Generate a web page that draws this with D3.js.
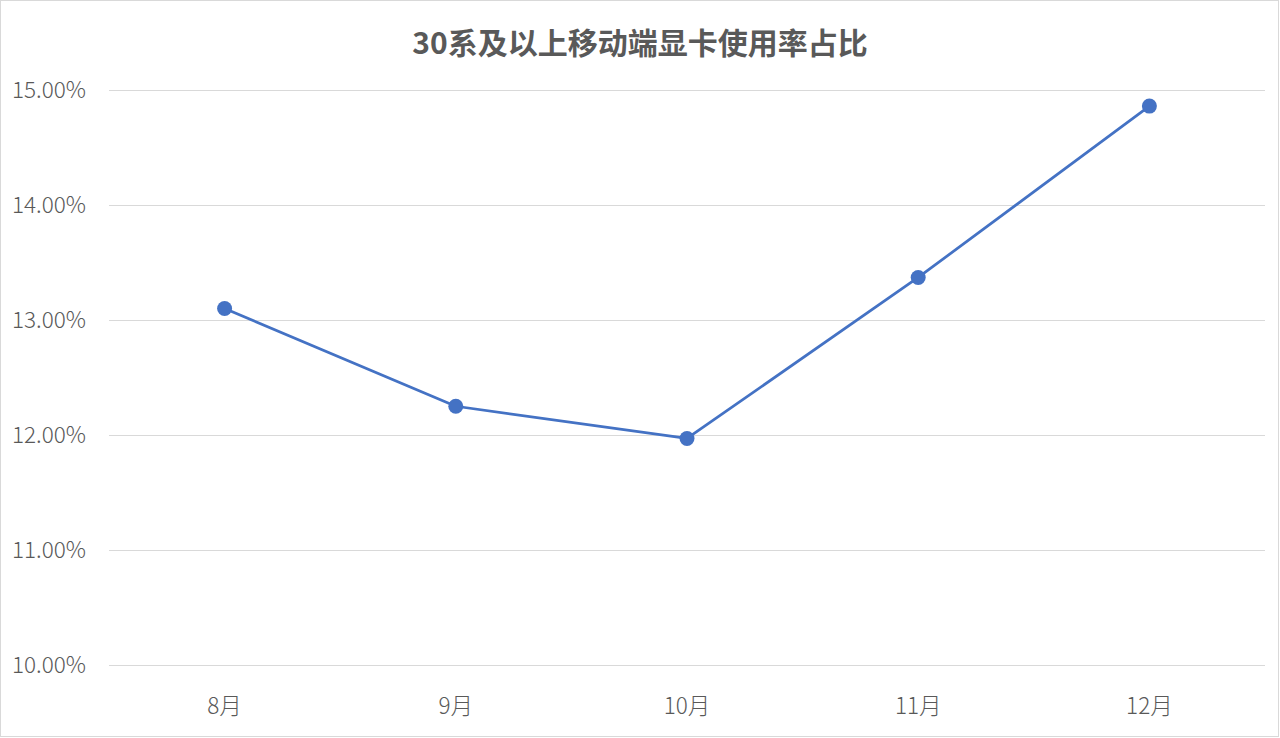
<!DOCTYPE html>
<html>
<head>
<meta charset="utf-8">
<script src="https://cdn.jsdelivr.net/npm/d3@7"></script>
<style>
  html, body { margin: 0; padding: 0; background: #fff; }
  svg { display: block; font-family: "Noto Sans CJK SC", "Noto Sans", sans-serif; }
</style>
</head>
<body>
<svg id="chart"></svg>
<script>
var months = ["8月", "9月", "10月", "11月", "12月"];
var shares = [13.10, 12.25, 11.97, 13.37, 14.86];
var yTicks = [10, 11, 12, 13, 14, 15];
var title = "30系及以上移动端显卡使用率占比";

var width = 1280, height = 738;
var margin = { top: 90, right: 15, bottom: 73, left: 109 };

var svg = d3.select("#chart")
    .attr("width", width)
    .attr("height", height);

// chart border
svg.append("rect")
    .attr("x", 0.5).attr("y", 0.5)
    .attr("width", width - 2).attr("height", height - 2)
    .attr("fill", "#fff")
    .attr("stroke", "#d9d9d9");

var x = d3.scaleBand()
    .domain(months)
    .range([margin.left, width - margin.right]);

var y = d3.scaleLinear()
    .domain([10, 15])
    .range([height - margin.bottom, margin.top]);

// gridlines
svg.append("g")
    .attr("class", "grid")
    .selectAll("line")
    .data(yTicks)
    .enter().append("line")
    .attr("x1", margin.left)
    .attr("x2", width - margin.right)
    .attr("y1", function (d) { return Math.round(y(d)) + 0.5; })
    .attr("y2", function (d) { return Math.round(y(d)) + 0.5; })
    .attr("stroke", "#d9d9d9")
    .attr("stroke-width", 1);

// y axis labels
var yAxis = d3.axisLeft(y)
    .tickValues(yTicks)
    .tickSize(0)
    .tickPadding(0)
    .tickFormat(function (d) { return d.toFixed(2) + "%"; });

svg.append("g")
    .attr("transform", "translate(86,0)")
    .call(yAxis)
    .call(function (g) { g.select(".domain").remove(); })
    .selectAll("text")
    .attr("font-family", "'Noto Sans CJK SC', sans-serif")
    .attr("font-size", 22.5)
    .attr("font-weight", 300)
    .attr("fill", "#595959");

// x axis labels
var xAxis = d3.axisBottom(x).tickSize(0).tickPadding(0);

svg.append("g")
    .attr("transform", "translate(0," + (height - margin.bottom + 42) + ")")
    .call(xAxis)
    .call(function (g) { g.select(".domain").remove(); })
    .selectAll("text")
    .attr("dy", "0.32em")
    .attr("font-family", "'Noto Sans CJK SC', sans-serif")
    .attr("font-size", 22.5)
    .attr("font-weight", 300)
    .attr("fill", "#595959");

// line
var line = d3.line()
    .x(function (d, i) { return x(months[i]) + x.bandwidth() / 2; })
    .y(function (d) { return y(d); });

svg.append("path")
    .datum(shares)
    .attr("d", line)
    .attr("fill", "none")
    .attr("stroke", "#4472c4")
    .attr("stroke-width", 2.75)
    .attr("stroke-linejoin", "round");

svg.append("g")
    .selectAll("circle")
    .data(shares)
    .enter().append("circle")
    .attr("cx", function (d, i) { return x(months[i]) + x.bandwidth() / 2; })
    .attr("cy", function (d) { return y(d); })
    .attr("r", 7.5)
    .attr("fill", "#4472c4");

// title
svg.append("text")
    .attr("x", width / 2)
    .attr("y", 41)
    .attr("text-anchor", "middle")
    .attr("dominant-baseline", "central")
    .attr("font-size", 30)
    .attr("font-weight", "bold")
    .attr("fill", "#595959")
    .text(title);
</script>
</body>
</html>
